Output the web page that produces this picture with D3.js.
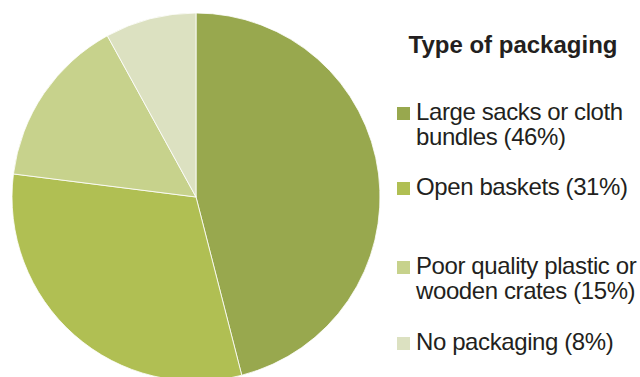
<!DOCTYPE html>
<html>
<head>
<meta charset="utf-8">
<script src="https://cdn.jsdelivr.net/npm/d3@7"></script>
<style>
  body { margin: 0; background: #fff; }
  svg text { font-family: "Liberation Sans", Arial, sans-serif; fill: #231f20; }
</style>
</head>
<body>
<div id="chart"></div>
<script>
// data
const categories = ['Large sacks or cloth bundles', 'Open baskets', 'Poor quality plastic or wooden crates', 'No packaging'];
const shares = [46, 31, 15, 8];
const legendLines = [
  ['Large sacks or cloth', 'bundles (46%)'],
  ['Open baskets (31%)'],
  ['Poor quality plastic or', 'wooden crates (15%)'],
  ['No packaging (8%)']
];
const colors = ['#98a84e', '#b0bf53', '#c7d28c', '#dce1c1'];

const width = 640, height = 377;
const cx = 196, cy = 197, radius = 184;

const svg = d3.select('#chart').append('svg')
  .attr('width', width)
  .attr('height', height);

const data = categories.map((c, i) => ({ name: c, value: shares[i], color: colors[i], lines: legendLines[i] }));

const pie = d3.pie().value(d => d.value).sort(null);
const arc = d3.arc().innerRadius(0).outerRadius(radius);

svg.append('g')
  .attr('transform', `translate(${cx},${cy})`)
  .selectAll('path')
  .data(pie(data))
  .join('path')
  .attr('d', arc)
  .attr('fill', d => d.data.color)
  .attr('stroke', '#fff')
  .attr('stroke-width', 0.8);

// legend
svg.append('text')
  .attr('x', 513)
  .attr('y', 53)
  .attr('text-anchor', 'middle')
  .style('font-size', '24px')
  .style('font-weight', 'bold')
  .text('Type of packaging');

const legendY = [120, 195, 274, 350];
const lg = svg.append('g');
data.forEach((d, i) => {
  const g = lg.append('g').attr('transform', `translate(0,${legendY[i]})`);
  g.append('rect')
    .attr('x', 397)
    .attr('y', -13)
    .attr('width', 13)
    .attr('height', 13)
    .attr('fill', d.color);
  const t = g.append('text')
    .attr('x', 416)
    .attr('y', 0)
    .style('font-size', '24px')
    .style('letter-spacing', '-0.4px');
  d.lines.forEach((line, j) => {
    t.append('tspan')
      .attr('x', 416)
      .attr('dy', j === 0 ? 0 : 24.5)
      .text(line);
  });
});
</script>
</body>
</html>
